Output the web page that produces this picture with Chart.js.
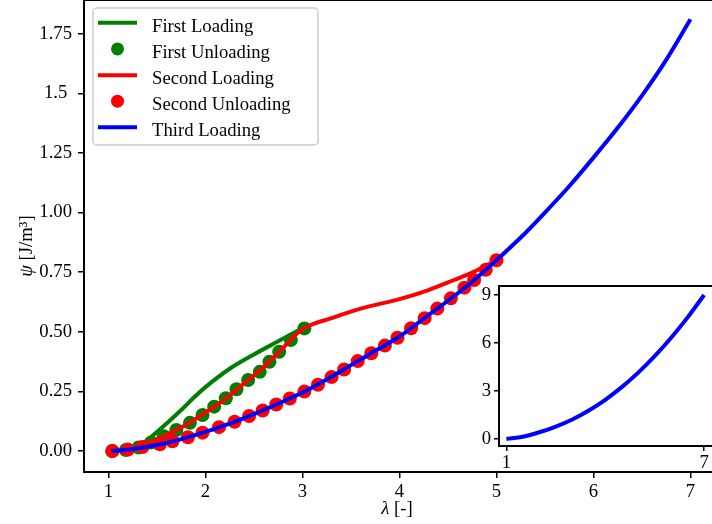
<!DOCTYPE html>
<html>
<head>
<meta charset="utf-8">
<script src="https://cdn.jsdelivr.net/npm/chart.js@4/dist/chart.umd.min.js"></script>
<style>
  html, body { margin: 0; padding: 0; width: 712px; height: 524px; overflow: hidden; background: #fff; }
  #main { position: absolute; left: 0; top: 0; }
  #inset { position: absolute; left: 470px; top: 270px; }
</style>
</head>
<body>
<canvas id="main" width="770" height="524"></canvas>
<canvas id="inset" width="300" height="200"></canvas>
<script>
  const seriesNames = ['First Loading', 'First Unloading', 'Second Loading', 'Second Unloading', 'Third Loading'];

  // first loading (green line)
  const firstLoadX = [1.03, 1.1, 1.2, 1.3, 1.4, 1.5, 1.625, 1.75, 1.875, 2.0, 2.25, 2.5, 2.75, 3.0];
  const firstLoadY = [0, 0.002, 0.008, 0.022, 0.045, 0.08, 0.125, 0.172, 0.222, 0.268, 0.345, 0.405, 0.46, 0.515];

  // first unloading (green dots)
  const firstUnloadX = [3.02, 2.88, 2.76, 2.66, 2.56, 2.44, 2.32, 2.21, 2.09, 1.97, 1.84, 1.70, 1.57, 1.44, 1.31, 1.18, 1.04];
  const firstUnloadY = [0.514, 0.465, 0.416, 0.374, 0.332, 0.298, 0.259, 0.221, 0.186, 0.151, 0.118, 0.088, 0.062, 0.036, 0.015, 0.004, 0];

  // second loading (red line)
  const secondLoadX = [1.03, 1.2, 1.4, 1.6, 1.8, 2.0, 2.2, 2.4, 2.6, 2.8, 2.95, 3.05, 3.3, 3.6, 4.0, 4.3, 4.55, 4.76, 5.0];
  const secondLoadY = [0, 0.005, 0.033, 0.068, 0.11, 0.162, 0.217, 0.284, 0.352, 0.432, 0.495, 0.522, 0.557, 0.597, 0.637, 0.675, 0.715, 0.75, 0.80];

  // second unloading (red dots)
  const secondUnloadX = [1.04, 1.20, 1.35, 1.53, 1.66, 1.82, 1.97, 2.14, 2.30, 2.45, 2.59, 2.73, 2.87, 3.02, 3.16, 3.30, 3.43, 3.57, 3.71, 3.85, 3.98, 4.12, 4.26, 4.39, 4.53, 4.67, 4.77, 4.89, 5.0];
  const secondUnloadY = [0, 0.006, 0.017, 0.028, 0.041, 0.058, 0.077, 0.10, 0.123, 0.147, 0.17, 0.195, 0.22, 0.249, 0.278, 0.31, 0.342, 0.377, 0.41, 0.442, 0.475, 0.515, 0.557, 0.597, 0.64, 0.685, 0.717, 0.76, 0.80];

  // third loading (blue line)
  const thirdLoadX = [1.03, 1.25, 1.5, 1.75, 2, 2.25, 2.5, 2.75, 3, 3.25, 3.5, 3.75, 4, 4.25, 4.5, 4.75, 5, 5.25, 5.5, 5.75, 6, 6.25, 6.5, 6.75, 7];
  const thirdLoadY = [0, 0.008, 0.025, 0.05, 0.08, 0.115, 0.155, 0.198, 0.245, 0.30, 0.36, 0.42, 0.48, 0.555, 0.63, 0.71, 0.80, 0.895, 1.0, 1.11, 1.23, 1.355, 1.49, 1.64, 1.81];

  // inset curve
  const insetX = [1, 1.5, 2, 2.5, 3, 3.5, 4, 4.5, 5, 5.5, 6, 6.5, 7];
  const insetY = [0, 0.14, 0.42, 0.78, 1.22, 1.78, 2.45, 3.24, 4.15, 5.18, 6.33, 7.6, 9.0];

  // tick labels
  const xTicks = [1, 2, 3, 4, 5, 6, 7];
  const yTicks = [0, 0.25, 0.5, 0.75, 1.0, 1.25, 1.5, 1.75];
  const yTickLabels = ['0.00', '0.25', '0.50', '0.75', '1.00', '1.25', '1.5 ', '1.75'];
  const insetXTicks = [1, 7];
  const insetYTicks = [0, 3, 6, 9];

  const GREEN = '#008000', RED = '#ff0000', BLUE = '#0000ff';
  const FONT = "'Liberation Serif', 'Times New Roman', serif";
  const FS = 18.7;

  Chart.defaults.font.family = FONT;
  Chart.defaults.font.size = FS;
  Chart.defaults.color = '#000';

  function pts(xs, ys) {
    return xs.map((x, i) => ({ x: x, y: ys[i] }));
  }

  function lineSet(label, xs, ys, color, order) {
    return {
      label: label, data: pts(xs, ys), borderColor: color, backgroundColor: color,
      borderWidth: 4, pointRadius: 0, showLine: true, cubicInterpolationMode: 'monotone',
      order: order
    };
  }

  function dotSet(label, xs, ys, color, order) {
    return {
      label: label, data: pts(xs, ys), borderColor: color, backgroundColor: color,
      pointRadius: 7, pointBorderWidth: 0, showLine: false, order: order
    };
  }

  // frame (all four spines) drawn over the data like matplotlib
  const framePlugin = {
    id: 'frame',
    beforeDraw(chart, args, opts) {
      if (opts.fill) {
        const a = chart.chartArea, ctx = chart.ctx;
        ctx.save();
        ctx.fillStyle = '#fff';
        ctx.fillRect(a.left, a.top, a.right - a.left, a.bottom - a.top);
        ctx.restore();
      }
    },
    afterDatasetsDraw(chart) {
      const a = chart.chartArea, ctx = chart.ctx;
      ctx.save();
      ctx.strokeStyle = '#000';
      ctx.lineWidth = 2;
      ctx.strokeRect(a.left, a.top, a.right - a.left, a.bottom - a.top);
      ctx.restore();
    }
  };

  // legend box and axis titles of the main axes
  const decorPlugin = {
    id: 'decor',
    afterDraw(chart) {
      const ctx = chart.ctx;
      ctx.save();
      // legend frame
      const bx = 93, by = 8, bw = 225, bh = 137, r = 4;
      ctx.beginPath();
      ctx.moveTo(bx + r, by);
      ctx.arcTo(bx + bw, by, bx + bw, by + bh, r);
      ctx.arcTo(bx + bw, by + bh, bx, by + bh, r);
      ctx.arcTo(bx, by + bh, bx, by, r);
      ctx.arcTo(bx, by, bx + bw, by, r);
      ctx.closePath();
      ctx.fillStyle = 'rgba(255,255,255,0.8)';
      ctx.fill();
      ctx.strokeStyle = '#cccccc';
      ctx.lineWidth = 1.5;
      ctx.stroke();

      const colors = [GREEN, GREEN, RED, RED, BLUE];
      const isDot = [false, true, false, true, false];
      const baselines = [31.5, 57.7, 84, 110, 136];
      ctx.font = FS + 'px ' + FONT;
      ctx.textBaseline = 'alphabetic';
      ctx.textAlign = 'left';
      seriesNames.forEach((name, i) => {
        const cy = baselines[i] - 8.8;
        ctx.strokeStyle = colors[i];
        ctx.fillStyle = colors[i];
        if (isDot[i]) {
          ctx.beginPath();
          ctx.arc(117.5, cy, 6.5, 0, Math.PI * 2);
          ctx.fill();
        } else {
          ctx.lineWidth = 4;
          ctx.beginPath();
          ctx.moveTo(98, cy);
          ctx.lineTo(137, cy);
          ctx.stroke();
        }
        ctx.fillStyle = '#000';
        ctx.fillText(name, 152, baselines[i]);
      });

      // x title: λ [-]
      ctx.fillStyle = '#000';
      ctx.textBaseline = 'alphabetic';
      const italic = 'italic ' + FS + 'px ' + FONT, normal = FS + 'px ' + FONT;
      ctx.font = italic;
      const wl = ctx.measureText('λ').width;
      ctx.font = normal;
      const wr = ctx.measureText(' [-]').width;
      let x0 = 397 - (wl + wr) / 2;
      ctx.font = italic;
      ctx.fillText('λ', x0, 514);
      ctx.font = normal;
      ctx.fillText(' [-]', x0 + wl, 514);

      // y title: ψ [J/m³]
      ctx.translate(32, 246);
      ctx.rotate(-Math.PI / 2);
      ctx.font = italic;
      const wp = ctx.measureText('ψ').width;
      ctx.font = normal;
      const wu = ctx.measureText(' [J/m³]').width;
      x0 = -(wp + wu) / 2;
      ctx.font = italic;
      ctx.fillText('ψ', x0, 0);
      ctx.font = normal;
      ctx.fillText(' [J/m³]', x0 + wp, 0);
      ctx.restore();
    }
  };

  const tickGrid = { drawOnChartArea: false, drawTicks: true, tickLength: 6, color: '#000', lineWidth: 1.5 };

  function fitX(h) {
    return axis => { axis.height = h; axis.paddingLeft = 0; axis.paddingRight = 0; };
  }
  function fitY(w) {
    return axis => { axis.width = w; axis.paddingTop = 0; axis.paddingBottom = 0; };
  }

  const mainChart = new Chart(document.getElementById('main'), {
    type: 'scatter',
    data: {
      datasets: [
        lineSet(seriesNames[0], firstLoadX, firstLoadY, GREEN, 5),
        dotSet(seriesNames[1], firstUnloadX, firstUnloadY, GREEN, 4),
        lineSet(seriesNames[2], secondLoadX, secondLoadY, RED, 3),
        dotSet(seriesNames[3], secondUnloadX, secondUnloadY, RED, 2),
        lineSet(seriesNames[4], thirdLoadX, thirdLoadY, BLUE, 1)
      ]
    },
    options: {
      responsive: false,
      animation: false,
      layout: { padding: 0, autoPadding: false },
      plugins: {
        legend: { display: false },
        tooltip: { enabled: false },
        frame: { fill: false }
      },
      scales: {
        x: {
          type: 'linear', min: 0.748, max: 7.82,
          grid: tickGrid, border: { display: false },
          ticks: { autoSkip: false, maxRotation: 0, padding: 3, callback: v => String(v) },
          afterBuildTicks: axis => { axis.ticks = xTicks.map(v => ({ value: v })); },
          afterFit: fitX(52)
        },
        y: {
          type: 'linear', min: -0.088, max: 1.891,
          grid: tickGrid, border: { display: false },
          ticks: { autoSkip: false, padding: 6, callback: (v, i) => yTickLabels[i] },
          afterBuildTicks: axis => { axis.ticks = yTicks.map(v => ({ value: v })); },
          afterFit: fitY(84)
        }
      }
    },
    plugins: [framePlugin, decorPlugin]
  });

  const insetGrid = { drawOnChartArea: false, drawTicks: true, tickLength: 5, color: '#000', lineWidth: 1.5 };

  const insetChart = new Chart(document.getElementById('inset'), {
    type: 'scatter',
    data: {
      datasets: [lineSet('inset', insetX, insetY, BLUE, 1)]
    },
    options: {
      responsive: false,
      animation: false,
      layout: { padding: { left: 0, top: 16, right: 0, bottom: 0 } },
      plugins: {
        legend: { display: false },
        tooltip: { enabled: false },
        frame: { fill: true }
      },
      scales: {
        x: {
          type: 'linear', min: 0.775, max: 9.0,
          grid: insetGrid, border: { display: false },
          ticks: { autoSkip: false, maxRotation: 0, padding: 1, callback: v => String(v) },
          afterBuildTicks: axis => { axis.ticks = insetXTicks.map(v => ({ value: v })); },
          afterFit: fitX(24)
        },
        y: {
          type: 'linear', min: -0.4375, max: 9.5625,
          grid: insetGrid, border: { display: false },
          ticks: { autoSkip: false, padding: 3, callback: v => String(v) },
          afterBuildTicks: axis => { axis.ticks = insetYTicks.map(v => ({ value: v })); },
          afterFit: fitY(29)
        }
      }
    },
    plugins: [framePlugin]
  });
</script>
</body>
</html>
